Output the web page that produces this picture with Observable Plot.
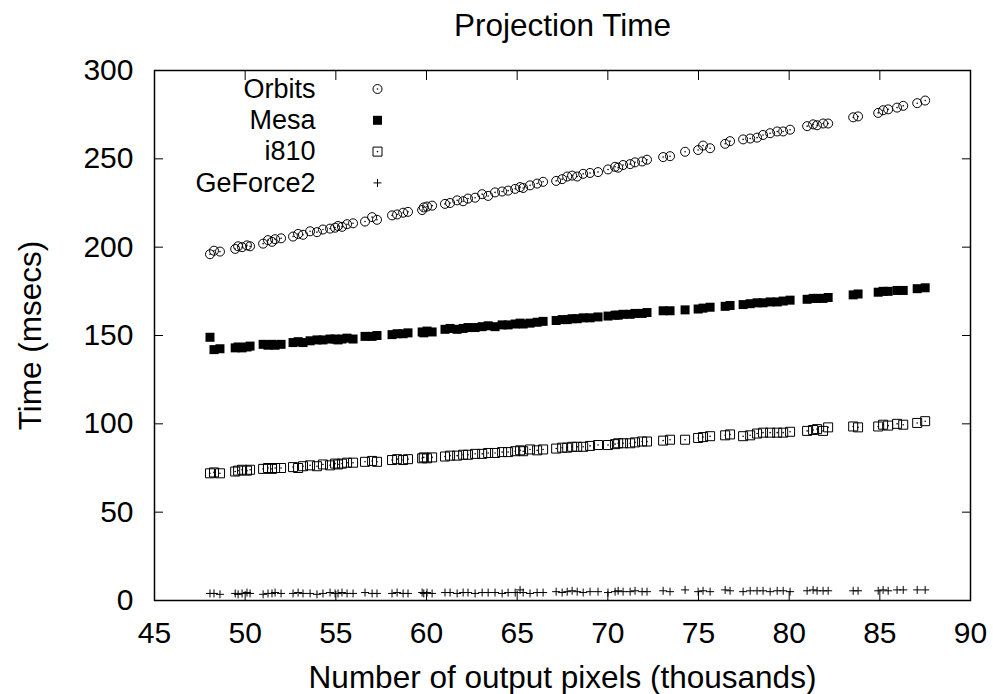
<!DOCTYPE html>
<html>
<head>
<meta charset="utf-8">
<script src="https://cdn.jsdelivr.net/npm/d3@7"></script>
<script src="https://cdn.jsdelivr.net/npm/@observablehq/plot@0.6"></script>
<style>
  body { margin: 0; background: #fff; }
</style>
</head>
<body>
<div id="chart"></div>
<script>
// Number of output pixels (thousands)
const pixels = [
  48.06, 48.28, 48.61, 49.45, 49.61, 49.83, 50.10, 50.27, 50.99, 51.26,
  51.48, 51.65, 51.98, 52.64, 52.92, 53.19, 53.58, 53.96, 54.29, 54.68,
  54.96, 55.12, 55.34, 55.62, 55.95, 56.61, 57.00, 57.27, 58.10, 58.38,
  58.71, 58.98, 59.76, 59.85, 60.03, 60.31, 61.02, 61.30, 61.69, 62.02,
  62.29, 62.68, 63.07, 63.40, 63.78, 64.17, 64.50, 64.89, 65.16, 65.33,
  65.71, 66.10, 66.43, 67.15, 67.48, 67.76, 68.03, 68.31, 68.64, 69.02,
  69.46, 70.01, 70.40, 70.57, 70.84, 71.23, 71.50, 71.89, 72.16, 73.05,
  73.43, 74.26, 74.98, 75.25, 75.64, 76.47, 76.74, 77.46, 77.85, 78.23,
  78.56, 78.95, 79.34, 79.67, 80.05, 80.99, 81.32, 81.54, 81.87, 82.15,
  83.53, 83.80, 84.91, 85.18, 85.46, 85.95, 86.29, 87.06, 87.50
];
// Time (msecs)
const orbits = [
  196, 198, 197.5, 199, 200.5, 200, 201, 200.5, 202, 204,
  203, 204.5, 205, 206, 207.5, 207, 209, 208.5, 210, 210.5,
  211, 212, 211.5, 213, 213.5, 214.5, 217, 215.5, 218, 218.5,
  219.5, 220, 221, 222.5, 223, 223.5, 224.5, 225, 226.5, 226,
  227.5, 228, 230, 229, 231, 231.5, 232, 233, 234, 233.5,
  235, 236, 237, 237.5, 238.5, 240, 240.5, 240, 241.5, 242,
  242.5, 244, 245.5, 245, 246.5, 247, 248, 248.5, 249.5, 251,
  251.5, 254, 255, 257.5, 256, 258.5, 260, 261, 261.5, 262,
  263.5, 264.5, 265.5, 265.5, 266.5, 268.5, 269.5, 269, 270, 270,
  273.5, 274, 276, 277.5, 278, 279, 280, 281.5, 283
];
const mesa = [
  149, 142, 142.5, 143, 143.5, 143, 143.5, 144, 145, 144.5,
  145, 144.5, 145, 146, 146.5, 146, 147, 147.5, 147.5, 148,
  148, 147.5, 148, 148.5, 148, 149.5, 149.5, 150, 150.5, 151,
  151, 151.5, 152, 151.5, 152.5, 152, 153.5, 154, 153.5, 154,
  154.5, 154.5, 155, 155.5, 155, 156, 156, 156.5, 157, 156.5,
  157, 157.5, 158, 158.5, 159, 159, 159.5, 159.5, 160, 160,
  160.5, 161, 161.5, 161.5, 162, 162, 162.5, 162.5, 163, 164,
  164, 164.5, 165, 165.5, 166, 166.5, 167, 167.5, 168, 168.5,
  168.5, 169, 169, 169.5, 170, 170.5, 171, 171, 171, 171.5,
  173, 173.5, 174.5, 175, 175, 175.5, 175.5, 176.5, 177
];
const i810 = [
  72, 72.5, 72, 73, 73.5, 74, 73.5, 74, 74.5, 75,
  74.5, 75, 75, 75.5, 75, 76, 76.5, 76, 77, 76.5,
  77.5, 77, 77.5, 78, 78, 78.5, 79, 78.5, 79.5, 80,
  79.5, 80, 80.5, 81, 80.5, 81, 81.5, 82, 82, 82.5,
  82.5, 83, 83, 83.5, 83.5, 84, 84, 84.5, 85, 84.5,
  85.5, 85, 85.5, 86, 86.5, 86.5, 87, 87, 87, 87.5,
  88, 88, 88.5, 89, 89, 89, 89.5, 90, 90, 90.5,
  91, 91, 92, 92.5, 93, 93.5, 94, 93, 93.5, 94.5,
  95, 95, 95, 95, 95.5, 96, 96.5, 97, 96, 98,
  98.5, 98, 98.5, 99.5, 99, 100, 99.5, 100.5, 101.5
];
const geforce2 = [
  4, 4, 3.5, 4, 3.5, 4, 4.5, 4, 3.5, 4,
  4, 4.5, 4, 4, 4.5, 4, 4, 3.5, 4, 4.5,
  4, 4, 4.5, 4, 4, 4.5, 4, 4, 4, 4.5,
  4, 4, 4.5, 4, 4.5, 4, 4.5, 4.5, 4, 4.5,
  4.5, 4, 4.5, 4.5, 4.5, 4, 4.5, 4.5, 6, 4.5,
  4, 4.5, 4.5, 5, 4.5, 5, 5.5, 5, 4.5, 5,
  5, 4.5, 5, 5.5, 5, 5, 5.5, 5, 5, 5.5,
  5, 6, 5, 5.5, 5, 6, 5.5, 5, 5.5, 5.5,
  5.5, 5, 5.5, 5.5, 5, 5.5, 6, 5.5, 5.5, 5.5,
  5.5, 5.5, 5.5, 6, 5.5, 6, 6, 6, 6
];
const seriesNames = ["Orbits", "Mesa", "i810", "GeForce2"];
const xTicks = [45, 50, 55, 60, 65, 70, 75, 80, 85, 90];
const yTicks = [0, 50, 100, 150, 200, 250, 300];
const titleText = "Projection Time";
const xLabelText = "Number of output pixels (thousands)";
const yLabelText = "Time (msecs)";

const rows = pixels.map((x, i) => ({x, orbits: orbits[i], mesa: mesa[i], i810: i810[i], geforce2: geforce2[i]}));

// custom symbols: half-size equals the dot radius
const squareSym = {draw(ctx, size) { const h = Math.sqrt(size / Math.PI); ctx.rect(-h, -h, 2 * h, 2 * h); }};
const plusSym = {draw(ctx, size) { const h = Math.sqrt(size / Math.PI); ctx.moveTo(-h, 0); ctx.lineTo(h, 0); ctx.moveTo(0, -h); ctx.lineTo(0, h); }};

const FS = 30;
const LFS = 31.5;
const KFS = 27;
const legendDx = 161, legendSymDx = 223, legendDy0 = 18.5, legendStep = 31.3;

const legendMarks = [];
seriesNames.forEach((name, k) => {
  const dy = legendDy0 + k * legendStep;
  legendMarks.push(Plot.text([name], {frameAnchor: "top-left", dx: legendDx, dy, textAnchor: "end", lineAnchor: "middle", fontSize: KFS, fill: "black"}));
});
const legDy = k => legendDy0 + k * legendStep;
legendMarks.push(
  Plot.dot([seriesNames[0]], {frameAnchor: "top-left", dx: legendSymDx, dy: legDy(0), r: 4.5, fill: "none", stroke: "black", strokeWidth: 1}),
  Plot.dot([seriesNames[0]], {frameAnchor: "top-left", dx: legendSymDx, dy: legDy(0), r: 0.8, fill: "black", stroke: "none"}),
  Plot.dot([seriesNames[1]], {frameAnchor: "top-left", dx: legendSymDx, dy: legDy(1), r: 4.5, symbol: squareSym, fill: "black", stroke: "none"}),
  Plot.dot([seriesNames[2]], {frameAnchor: "top-left", dx: legendSymDx, dy: legDy(2), r: 4.5, symbol: squareSym, fill: "none", stroke: "black", strokeWidth: 1}),
  Plot.dot([seriesNames[2]], {frameAnchor: "top-left", dx: legendSymDx, dy: legDy(2), r: 0.8, fill: "black", stroke: "none"}),
  Plot.dot([seriesNames[3]], {frameAnchor: "top-left", dx: legendSymDx, dy: legDy(3), r: 4, symbol: plusSym, fill: "none", stroke: "black", strokeWidth: 1})
);

const chart = Plot.plot({
  width: 993,
  height: 694,
  marginLeft: 154,
  marginRight: 23,
  marginTop: 70,
  marginBottom: 94,
  style: {fontFamily: "'Liberation Sans', Arial, Helvetica, sans-serif", fontSize: FS + "px", color: "black", background: "white"},
  x: {domain: [45, 90], label: null},
  y: {domain: [0, 300], label: null},
  marks: [
    Plot.axisX(xTicks, {anchor: "bottom", tickSize: -9, tickPadding: 30, fontSize: FS, label: null}),
    Plot.axisX(xTicks, {anchor: "top", tickSize: -9, tickFormat: () => "", label: null}),
    Plot.axisY(yTicks, {anchor: "left", tickSize: -9, tickPadding: 30, fontSize: FS, label: null}),
    Plot.axisY(yTicks, {anchor: "right", tickSize: -9, tickFormat: () => "", label: null}),
    // Orbits
    Plot.dot(rows, {x: "x", y: "orbits", r: 4.5, fill: "none", stroke: "black", strokeWidth: 1}),
    Plot.dot(rows, {x: "x", y: "orbits", r: 0.8, fill: "black", stroke: "none"}),
    // Mesa
    Plot.dot(rows, {x: "x", y: "mesa", r: 4.5, symbol: squareSym, fill: "black", stroke: "none"}),
    // i810
    Plot.dot(rows, {x: "x", y: "i810", r: 4.5, symbol: squareSym, fill: "none", stroke: "black", strokeWidth: 1}),
    Plot.dot(rows, {x: "x", y: "i810", r: 0.8, fill: "black", stroke: "none"}),
    // GeForce2
    Plot.dot(rows, {x: "x", y: "geforce2", r: 4, symbol: plusSym, fill: "none", stroke: "black", strokeWidth: 1}),
    Plot.frame({stroke: "black", strokeWidth: 1.5}),
    ...legendMarks,
    Plot.text([titleText], {frameAnchor: "top", dy: -45, textAnchor: "middle", lineAnchor: "middle", fontSize: LFS, fill: "black"}),
    Plot.text([xLabelText], {frameAnchor: "bottom", dy: 77, textAnchor: "middle", lineAnchor: "middle", fontSize: LFS, fill: "black"}),
    Plot.text([yLabelText], {frameAnchor: "left", dx: -124, rotate: -90, textAnchor: "middle", lineAnchor: "middle", fontSize: LFS, fill: "black"})
  ]
});
document.getElementById("chart").appendChild(chart);
</script>
</body>
</html>
